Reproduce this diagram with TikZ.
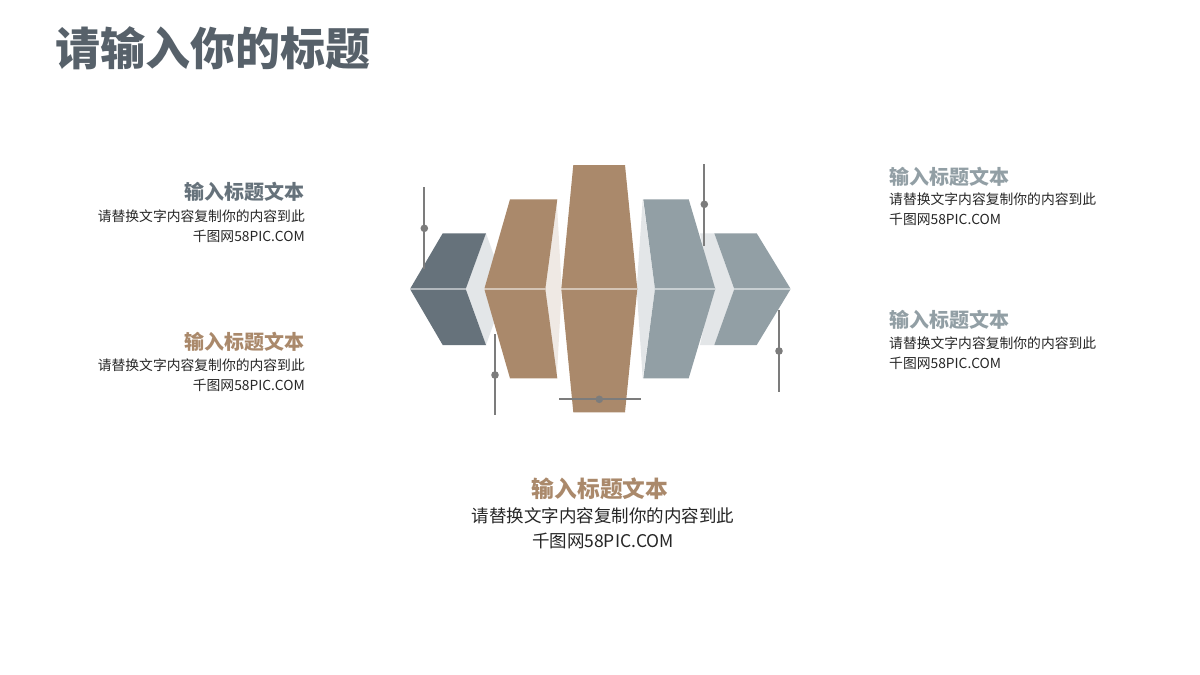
\documentclass[tikz,border=0pt]{standalone}
\usepackage{fontspec}
\setmainfont{Noto Sans CJK SC}
\definecolor{slate}{HTML}{66727B}
\definecolor{brownc}{HTML}{AA896B}
\definecolor{grayc}{HTML}{929FA5}
\definecolor{lightface}{HTML}{E3E6E8}
\definecolor{creamface}{HTML}{EFE9E4}
\definecolor{pinc}{HTML}{7C7C7C}
\definecolor{titlec}{HTML}{57616A}
\definecolor{bodyc}{HTML}{262626}
\begin{document}
\begin{tikzpicture}[x=1pt,y=-1pt,
  pin/.style={draw=pinc,line width=2pt},
  pindot/.style={fill=pinc},
  midl/.style={draw=white,draw opacity=0.5,line width=1.1pt},
  head/.style={inner sep=0pt,font=\bfseries\fontsize{20}{20}\selectfont},
  bodyt/.style={inner sep=0pt,text=bodyc,font=\fontsize{13.8}{13.8}\selectfont},
  headb/.style={inner sep=0pt,font=\bfseries\fontsize{22.7}{22.7}\selectfont},
  bodyb/.style={inner sep=0pt,text=bodyc,font=\fontsize{17.5}{17.5}\selectfont}]
\useasboundingbox (0,0) rectangle (1200,675);
\fill[white] (0,0) rectangle (1200,675);

% title
\node[inner sep=0pt,anchor=west,text=titlec,font=\bfseries\fontsize{45}{45}\selectfont] (title) at (55,48) {请输入你的标题};

% side faces
\fill[lightface] (486,233.3) -- (465.7,289) -- (486,345) -- (506,289) -- cycle;
\fill[creamface] (556.7,199.3) -- (544.3,289) -- (556.7,378.3) -- (561.7,289) -- cycle;
\fill[lightface] (642.7,199.3) -- (636.7,289) -- (642.7,378.3) -- (655,289) -- cycle;
\fill[lightface] (700,233.3) -- (714.3,233.3) -- (734.3,289) -- (714.3,345) -- (700,345) -- (712,289) -- cycle;

% prisms
\fill[slate] (410,289) -- (442.7,233.3) -- (486,233.3) -- (465.7,289) -- (486,345) -- (442.7,345) -- cycle;
\fill[brownc] (484.3,289) -- (510,199.3) -- (557.3,199.3) -- (545.3,289) -- (557.3,378.3) -- (510,378.3) -- cycle;
\fill[brownc] (561.3,289) -- (573.3,165) -- (625,165) -- (637.3,289) -- (625,412.3) -- (573.3,412.3) -- cycle;
\fill[grayc] (643.3,199.3) -- (688.7,199.3) -- (715.3,289) -- (688.7,378.3) -- (643.3,378.3) -- (655,289) -- cycle;
\fill[grayc] (714.3,233.3) -- (756.7,233.3) -- (790.7,289) -- (756.7,345) -- (714.3,345) -- (734.3,289) -- cycle;

% mid lines
\draw[midl] (410,289) -- (465.7,289);
\draw[midl] (484.3,289) -- (545.3,289);
\draw[midl] (561.3,289) -- (637.3,289);
\draw[midl] (655,289) -- (715.3,289);
\draw[midl] (734.3,289) -- (790.7,289);

% pins
\coordinate (p1a) at (424.3,187.3); \coordinate (p1b) at (424.3,269.3); \coordinate (p1c) at (424.3,228.3);
\coordinate (p2a) at (495,334); \coordinate (p2b) at (495,415); \coordinate (p2c) at (495,375);
\coordinate (p3a) at (559,399.3); \coordinate (p3b) at (640.7,399.3); \coordinate (p3c) at (599.3,399.3);
\coordinate (p4a) at (704.3,164); \coordinate (p4b) at (704.3,246); \coordinate (p4c) at (704.3,204.3);
\coordinate (p5a) at (779,310); \coordinate (p5b) at (779,392.3); \coordinate (p5c) at (779,351);
\foreach \p in {p1,p2,p3,p4,p5}{
  \draw[pin] (\p a) -- (\p b);
  \fill[pindot] (\p c) circle (3.8);
}

% left texts
\node[head,anchor=east,text=slate] (lh1) at (305,192) {输入标题文本};
\node[bodyt,anchor=east] (lb1a) at (305,216) {请替换文字内容复制你的内容到此};
\node[bodyt,anchor=east] (lb1b) at (305,236) {千图网58PIC.COM};
\node[head,anchor=east,text=brownc] (lh2) at (305,342) {输入标题文本};
\node[bodyt,anchor=east] (lb2a) at (305,365) {请替换文字内容复制你的内容到此};
\node[bodyt,anchor=east] (lb2b) at (305,385) {千图网58PIC.COM};

% right texts
\node[head,anchor=west,text=grayc] (rh1) at (889,177) {输入标题文本};
\node[bodyt,anchor=west] (rb1a) at (889,199) {请替换文字内容复制你的内容到此};
\node[bodyt,anchor=west] (rb1b) at (889,219) {千图网58PIC.COM};
\node[head,anchor=west,text=grayc] (rh2) at (889,320) {输入标题文本};
\node[bodyt,anchor=west] (rb2a) at (889,343) {请替换文字内容复制你的内容到此};
\node[bodyt,anchor=west] (rb2b) at (889,363) {千图网58PIC.COM};

% bottom text
\node[headb,text=brownc] (bh) at (600,489) {输入标题文本};
\node[bodyb] (bba) at (603,516) {请替换文字内容复制你的内容到此};
\node[bodyb] (bbb) at (603,541) {千图网58PIC.COM};
\end{tikzpicture}
\end{document}
